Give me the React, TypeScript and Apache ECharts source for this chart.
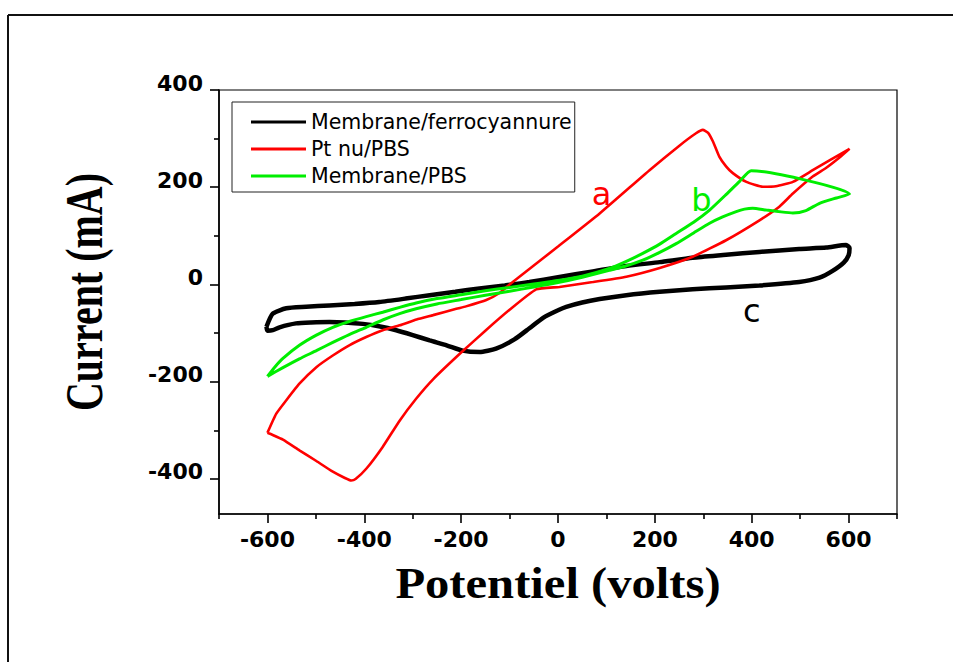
import React, { useEffect, useRef } from "react";
import * as echarts from "echarts";

// Axis ranges and ticks
const xMin = -700;
const xMax = 700;
const yMin = -472;
const yMax = 400;
const xMajorTicks = [-600, -400, -200, 0, 200, 400, 600];
const xMinorTicks = [-700, -500, -300, -100, 100, 300, 500, 700];
const yMajorTicks = [-400, -200, 0, 200, 400];
const yMinorTicks = [-300, -100, 100, 300];

const seriesNames = ["Membrane/ferrocyannure", "Pt nu/PBS", "Membrane/PBS"];

// Membrane/ferrocyannure (black) : [potential, current]
const ferroLoop: [number, number][] = [
  [-602, -87], [-589, -60], [-561, -49], [-520, -46], [-472, -43], [-420, -40],
  [-369, -36], [-315, -29], [-265, -22], [-212, -15], [-162, -8], [-110, -2],
  [-59, 5], [0, 15], [72, 27], [141, 38], [210, 46], [278, 55], [347, 61],
  [416, 67], [498, 73], [554, 76], [595, 81], [602, 75], [600, 60], [590, 45],
  [567, 28], [540, 14], [498, 5], [416, -2], [347, -6], [278, -10], [210, -15],
  [141, -22], [86, -30], [50, -37], [17, -46], [0, -53], [-30, -68], [-59, -90],
  [-90, -113], [-128, -132], [-162, -139], [-197, -136], [-230, -125],
  [-265, -115], [-300, -104], [-334, -94], [-370, -86], [-403, -81], [-440, -78],
  [-472, -77], [-510, -78], [-541, -80], [-575, -88], [-589, -94], [-600, -95],
  [-602, -87],
];

// Pt nu/PBS (red)
const ptLoop: [number, number][] = [
  [-600, -305], [-582, -266], [-561, -238], [-534, -204], [-499, -170],
  [-465, -146], [-431, -125], [-396, -108], [-362, -94], [-327, -84],
  [-292, -72], [-258, -63], [-210, -50], [-190, -45], [-148, -32], [-120, -17],
  [-100, 0], [-50, 39], [0, 78], [86, 146], [189, 235], [250, 285], [285, 311],
  [299, 318], [310, 312], [320, 294], [333, 263], [347, 243], [361, 229],
  [389, 211], [423, 201], [450, 202], [485, 211], [526, 235], [565, 258],
  [602, 279], [580, 260], [554, 240], [526, 222], [485, 187], [457, 160],
  [416, 132], [347, 91], [278, 57], [210, 34], [141, 16], [72, 5], [3, -5],
  [-45, -10], [-100, -52], [-150, -95], [-200, -140], [-258, -195],
  [-293, -235], [-327, -280], [-362, -334], [-396, -379], [-418, -400],
  [-427, -403], [-440, -398], [-465, -385], [-499, -363], [-534, -341],
  [-568, -319], [-590, -309], [-600, -305],
];

// Membrane/PBS (green)
const pbsLoop: [number, number][] = [
  [-600, -189], [-585, -170], [-568, -152], [-534, -125], [-499, -104],
  [-465, -88], [-431, -76], [-396, -66], [-362, -57], [-327, -47], [-293, -38],
  [-250, -29], [-200, -21], [-150, -13], [-100, -6], [-50, 1], [0, 8], [50, 17],
  [106, 33], [140, 47], [175, 64], [210, 83], [244, 105], [280, 128],
  [313, 153], [345, 183], [375, 212], [399, 234], [602, 186], [575, 178],
  [540, 167], [512, 152], [485, 147], [455, 150], [430, 153], [402, 157],
  [385, 155], [368, 150], [340, 139], [313, 126], [280, 106], [244, 84],
  [210, 66], [175, 50], [140, 38], [106, 29], [50, 15], [0, 4], [-50, -5],
  [-100, -14], [-150, -22], [-200, -31], [-250, -40], [-293, -50], [-327, -60],
  [-362, -73], [-396, -88], [-431, -103], [-465, -119], [-499, -136],
  [-534, -153], [-568, -171], [-600, -189],
];

// Curve letters: [potential, current]
const labelA: [number, number] = [90, 186];
const labelB: [number, number] = [296, 174];
const labelC: [number, number] = [400, -54];

const tickFont = {
  fontFamily: "DejaVu Sans",
  fontWeight: "bold" as const,
  fontSize: 22,
  color: "#000",
};

function letterMark(text: string, color: string, coord: [number, number]) {
  return {
    symbol: "circle",
    symbolSize: 1,
    itemStyle: { color: "rgba(0,0,0,0)" },
    silent: true,
    label: {
      show: true,
      position: "inside",
      formatter: text,
      color,
      fontFamily: "DejaVu Sans",
      fontSize: 32,
    },
    data: [{ coord }],
  };
}

function tickOnlyAxis(
  min: number,
  max: number,
  position: string,
  values: number[],
  length: number
) {
  return {
    type: "value",
    min,
    max,
    position,
    axisLine: { show: false, onZero: false },
    axisTick: {
      show: true,
      length,
      customValues: values,
      lineStyle: { color: "#000", width: 1.6 },
    },
    axisLabel: { show: false },
    splitLine: { show: false },
  };
}

export default function App() {
  const ref = useRef<HTMLDivElement>(null);

  useEffect(() => {
    if (!ref.current) return;
    const chart = echarts.init(ref.current, undefined, { renderer: "svg" });
    chart.setOption({
      animation: false,
      backgroundColor: "#fff",
      grid: {
        left: 219,
        right: 56,
        top: 90,
        bottom: 148,
        show: true,
        borderColor: "#000",
        borderWidth: 1.2,
        backgroundColor: "transparent",
      },
      legend: {
        orient: "vertical",
        left: 232,
        top: 102,
        data: seriesNames,
        icon: "rect",
        itemWidth: 55,
        itemHeight: 3,
        itemGap: 5,
        borderColor: "#222",
        borderWidth: 1,
        padding: [9, 3, 5, 19],
        textStyle: {
          fontFamily: "DejaVu Sans",
          fontSize: 20.5,
          lineHeight: 22,
          color: "#000",
        },
      },
      xAxis: [
        {
          type: "value",
          min: xMin,
          max: xMax,
          position: "bottom",
          axisLine: {
            show: true,
            onZero: false,
            lineStyle: { color: "#000", width: 1.6 },
          },
          axisTick: { show: false },
          axisLabel: { ...tickFont, margin: 14, customValues: xMajorTicks },
          splitLine: { show: false },
        },
        tickOnlyAxis(xMin, xMax, "bottom", xMajorTicks, 9),
        tickOnlyAxis(xMin, xMax, "bottom", xMinorTicks, 5),
      ],
      yAxis: [
        {
          type: "value",
          min: yMin,
          max: yMax,
          position: "left",
          axisLine: {
            show: true,
            onZero: false,
            lineStyle: { color: "#000", width: 1.6 },
          },
          axisTick: { show: false },
          axisLabel: {
            ...tickFont,
            margin: 16,
            customValues: yMajorTicks,
            verticalAlign: "bottom",
            lineHeight: 14,
          },
          splitLine: { show: false },
        },
        tickOnlyAxis(yMin, yMax, "left", yMajorTicks, 9),
        tickOnlyAxis(yMin, yMax, "left", yMinorTicks, 5),
      ],
      graphic: [
        {
          type: "line",
          shape: { x1: 8, y1: 15, x2: 953, y2: 15 },
          style: { stroke: "#111", lineWidth: 2 },
          silent: true,
        },
        {
          type: "line",
          shape: { x1: 8, y1: 15, x2: 8, y2: 662 },
          style: { stroke: "#111", lineWidth: 2 },
          silent: true,
        },
        {
          type: "text",
          x: 558,
          y: 583,
          scaleX: 1.08,
          style: {
            text: "Potentiel (volts)",
            fontFamily: "Liberation Serif",
            fontWeight: "bold",
            fontSize: 45,
            fill: "#000",
            align: "center",
            verticalAlign: "middle",
            textAlign: "center",
            textVerticalAlign: "middle",
          },
        },
        {
          type: "text",
          x: 85,
          y: 292,
          rotation: Math.PI / 2,
          scaleY: 1.3,
          style: {
            text: "Current (mA)",
            fontFamily: "Liberation Serif",
            fontWeight: "bold",
            fontSize: 40,
            fill: "#000",
            align: "center",
            verticalAlign: "middle",
            textAlign: "center",
            textVerticalAlign: "middle",
          },
        },
      ],
      series: [
        {
          name: seriesNames[0],
          type: "line",
          data: ferroLoop,
          showSymbol: false,
          smooth: 0.2,
          color: "#000",
          lineStyle: { color: "#000", width: 4.5 },
          markPoint: letterMark("c", "#000", labelC),
        },
        {
          name: seriesNames[1],
          type: "line",
          data: ptLoop,
          showSymbol: false,
          smooth: 0.15,
          color: "#ff0000",
          lineStyle: { color: "#ff0000", width: 2.6 },
          markPoint: letterMark("a", "#ff0000", labelA),
        },
        {
          name: seriesNames[2],
          type: "line",
          data: pbsLoop,
          showSymbol: false,
          smooth: 0.2,
          color: "#00ee00",
          lineStyle: { color: "#00ee00", width: 3 },
          markPoint: letterMark("b", "#00ee00", labelB),
        },
      ],
    });
    return () => chart.dispose();
  }, []);

  return (
    <div
      ref={ref}
      style={{ position: "absolute", left: 0, top: 0, width: 953, height: 662 }}
    />
  );
}
